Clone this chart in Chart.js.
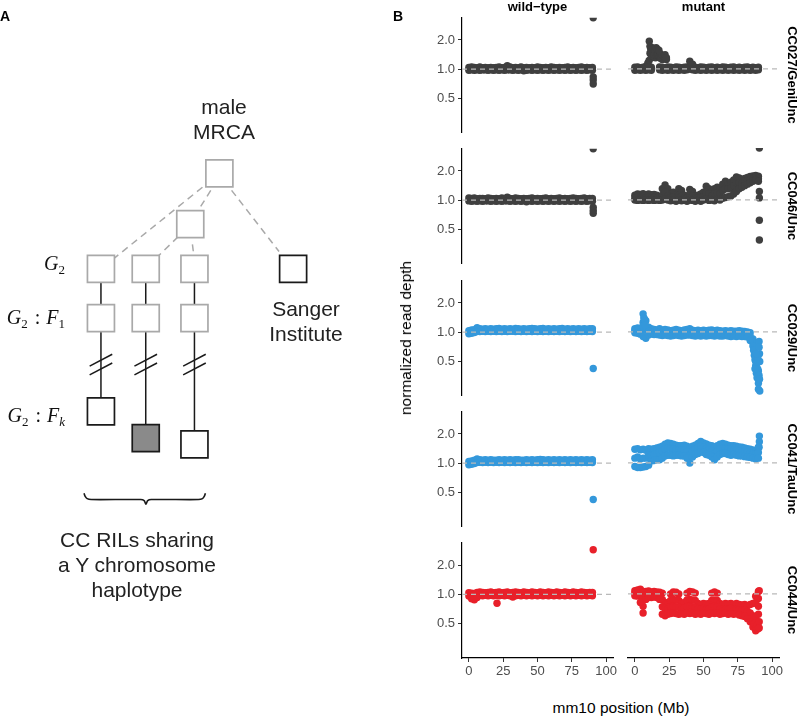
<!DOCTYPE html>
<html>
<head>
<meta charset="utf-8">
<script src="https://cdn.jsdelivr.net/npm/chart.js@4.4.0/dist/chart.umd.min.js"></script>
<style>
  body { margin: 0; background: #fff; }
  #page { position: relative; width: 798px; height: 716px; overflow: hidden; background: #fff;
          font-family: "Liberation Sans", Arial, Helvetica, sans-serif; color: #000; }
  canvas { position: absolute; }
  .txt { position: absolute; white-space: nowrap; }
  .tag { font-weight: bold; font-size: 14px; }
  .dia { font-size: 21px; line-height: 25px; text-align: center; transform: translateX(-50%); color: #222; }
  .math { position: absolute; right: 733px; font-family: "Liberation Serif", "DejaVu Serif", serif;
          font-style: italic; font-size: 20px; line-height: 24px; white-space: nowrap; color: #111; }
  .math sub { font-style: normal; font-size: 13px; vertical-align: -4px; line-height: 0; }
  .math sub.it { font-style: italic; }
  .math .colon { font-style: normal; margin: 0 6px 0 7px; }
  .head { font-weight: bold; font-size: 13px; transform: translate(-50%, -50%); }
  .strip { font-weight: bold; font-size: 13px; transform: translate(-50%, -50%) rotate(90deg); }
  .axt { font-size: 15.5px; color: #000; }
</style>
</head>
<body>
<div id="page">
  <canvas id="pedigree" width="380" height="716" style="left:0;top:0"></canvas>

  <div class="txt tag" style="left:0;top:8px">A</div>
  <div class="txt tag" style="left:393px;top:8px">B</div>

  <div class="txt dia" style="left:224px;top:94px">male<br>MRCA</div>
  <div class="txt dia" style="left:306px;top:296px">Sanger<br>Institute</div>
  <div class="txt dia" style="left:137px;top:527px">CC RILs sharing<br>a Y chromosome<br>haplotype</div>

  <div class="math" style="top:251px">G<sub>2</sub></div>
  <div class="math" style="top:305px">G<sub>2</sub><span class="colon">:</span>F<sub>1</sub></div>
  <div class="math" style="top:403px">G<sub>2</sub><span class="colon">:</span>F<sub class="it">k</sub></div>
</div>

<script>
/* =========================================================
   Y chromosome read depth — pedigree (A) + faceted scatter (B)
   ========================================================= */

// ---------------------- Panel B data ----------------------
const POS = [0, 2, 4, 6, 8, 10, 12, 14, 16, 18,
             20, 22, 24, 26, 28, 30, 32, 34, 36, 38,
             40, 42, 44, 46, 48, 50, 52, 54, 56, 58,
             60, 62, 64, 66, 68, 70, 72, 74, 76, 78,
             80, 82, 84, 86, 88, 90];
const X_TICKS = [0, 25, 50, 75, 100];
const Y_TICKS = [0.5, 1, 2];
const X_MIN = -5, X_MAX = 105;
const Y_MIN = 0.222, Y_MAX = 3.39;
const REF_DEPTH = 1;

const STRAINS = ['CC027/GeniUnc', 'CC046/Unc', 'CC029/Unc', 'CC041/TauUnc', 'CC044/Unc'];
const GENOTYPES = ['wild\u2212type', 'mutant'];

// wild-type
const WT_CC027_HI = [1.04,1.05,1.04,1.03,1.05,1.03,1.04,1.03,1.04,1.03,
                     1.04,1.05,1.03,1.04,1.08,1.05,1.03,1.04,1.03,1.05,
                     1.03,1.04,1.03,1.04,1.03,1.05,1.04,1.03,1.04,1.03,
                     1.05,1.04,1.03,1.04,1.03,1.04,1.05,1.03,1.04,1.03,
                     1.04,1.05,1.03,1.04,1.03,1.04];
const WT_CC027_LO = [0.97,0.98,0.97,0.98,0.97,0.98,0.98,0.97,0.98,0.97,
                     0.98,0.97,0.98,0.97,0.98,0.98,0.97,0.98,0.97,0.98,
                     0.96,0.97,0.98,0.97,0.98,0.97,0.98,0.97,0.98,0.97,
                     0.98,0.97,0.98,0.97,0.98,0.97,0.98,0.97,0.98,0.97,
                     0.98,0.97,0.98,0.97,0.98,0.97];
const WT_CC027_OUT_X = [90.6, 90.6, 90.6, 90.6];
const WT_CC027_OUT_Y = [0.83, 0.77, 0.7, Y_MAX];

const WT_CC046_HI = [1.05,1.04,1.05,1.03,1.04,1.04,1.03,1.05,1.04,1.03,
                     1.04,1.03,1.05,1.04,1.07,1.04,1.03,1.05,1.04,1.03,
                     1.04,1.03,1.04,1.05,1.03,1.04,1.03,1.04,1.05,1.03,
                     1.04,1.03,1.04,1.05,1.03,1.04,1.03,1.04,1.05,1.04,
                     1.03,1.04,1.05,1.03,1.04,1.04];
const WT_CC046_LO = [0.98,0.97,0.98,0.97,0.98,0.97,0.98,0.98,0.97,0.98,
                     0.97,0.98,0.97,0.98,0.98,0.97,0.98,0.97,0.98,0.97,
                     0.98,0.96,0.98,0.97,0.98,0.97,0.98,0.97,0.98,0.97,
                     0.98,0.97,0.98,0.97,0.98,0.97,0.98,0.97,0.98,0.97,
                     0.98,0.97,0.98,0.97,0.98,0.97];
const WT_CC046_OUT_X = [90.6, 90.6, 90.6, 90.6];
const WT_CC046_OUT_Y = [0.84, 0.78, 0.73, Y_MAX];

const WT_CC029_HI = [1.03,1.05,1.06,1.11,1.08,1.07,1.08,1.07,1.08,1.07,
                     1.08,1.09,1.07,1.08,1.07,1.08,1.07,1.09,1.08,1.07,
                     1.08,1.07,1.08,1.09,1.08,1.07,1.08,1.09,1.07,1.08,
                     1.07,1.08,1.07,1.08,1.09,1.07,1.08,1.07,1.08,1.07,
                     1.08,1.07,1.08,1.07,1.08,1.08];
const WT_CC029_LO = [0.96,0.97,0.99,1.01,1.01,1.02,1.01,1.02,1.01,1.02,
                     1.01,1.02,1.01,1.02,1.01,1.02,1.02,1.01,1.02,1.01,
                     1.02,1.01,1.02,1.01,1.02,1.01,1.02,1.01,1.02,1.01,
                     1.02,1.01,1.02,1.01,1.02,1.01,1.02,1.01,1.02,1.01,
                     1.02,1.01,1.02,1.01,1.02,1.01];
const WT_CC029_OUT_X = [90.6];
const WT_CC029_OUT_Y = [0.42];

const WT_CC041_HI = [1.04,1.05,1.07,1.1,1.08,1.07,1.08,1.07,1.08,1.07,
                     1.07,1.08,1.07,1.08,1.07,1.08,1.07,1.08,1.08,1.07,
                     1.07,1.08,1.07,1.08,1.07,1.08,1.09,1.08,1.07,1.08,
                     1.07,1.08,1.07,1.08,1.07,1.08,1.07,1.08,1.07,1.08,
                     1.07,1.08,1.07,1.08,1.07,1.08];
const WT_CC041_LO = [0.96,0.97,0.99,1.01,1.02,1.01,1.02,1.01,1.02,1.01,
                     1.02,1.01,1.02,1.01,1.02,1.01,1.02,1.01,1.02,1.01,
                     1.02,1.01,1.02,1.01,1.02,1.01,1.02,1.01,1.02,1.01,
                     1.02,1.01,1.02,1.01,1.02,1.01,1.02,1.01,1.02,1.01,
                     1.02,1.01,1.02,1.01,1.02,1.01];
const WT_CC041_OUT_X = [90.6];
const WT_CC041_OUT_Y = [0.42];

const WT_CC044_HI = [1.04,1.03,1.02,1.05,1.06,1.05,1.04,1.05,1.06,1.04,
                     1.05,1.06,1.04,1.05,1.06,1.04,1.05,1.06,1.05,1.04,
                     1.06,1.05,1.04,1.06,1.05,1.04,1.06,1.05,1.04,1.06,
                     1.05,1.04,1.06,1.05,1.04,1.06,1.05,1.04,1.06,1.05,
                     1.04,1.06,1.05,1.04,1.05,1.05];
const WT_CC044_LO = [0.96,0.9,0.88,0.93,0.98,0.97,0.98,0.97,0.98,0.97,
                     0.98,0.97,0.98,0.97,0.98,0.97,0.94,0.97,0.98,0.97,
                     0.98,0.97,0.98,0.97,0.98,0.97,0.98,0.97,0.98,0.97,
                     0.98,0.97,0.98,0.97,0.98,0.97,0.98,0.97,0.98,0.97,
                     0.98,0.97,0.98,0.97,0.98,0.97];
const WT_CC044_OUT_X = [20.5, 90.6];
const WT_CC044_OUT_Y = [0.81, 2.88];

// mutant
const MUT_CC027_HI = [1.04,1.05,1.03,1.04,1.05,1.06,1.04,null,null,1.05,
                      1.04,1.03,1.05,1.04,1.03,1.05,1.04,1.03,1.04,1.05,
                      1.2,1.12,1.04,1.03,1.05,1.04,1.03,1.04,1.05,1.03,
                      1.04,1.03,1.05,1.04,1.03,1.04,1.05,1.03,1.04,1.03,
                      1.04,1.05,1.03,1.04,1.03,1.04];
const MUT_CC027_LO = [0.97,0.98,0.97,0.98,0.97,0.98,0.97,null,null,0.98,
                      0.97,0.98,0.97,0.98,0.97,0.98,0.97,0.98,0.97,0.98,
                      1.0,0.98,0.97,0.98,0.97,0.98,0.97,0.98,0.97,0.98,
                      0.97,0.98,0.97,0.98,0.97,0.98,0.97,0.98,0.97,0.98,
                      0.97,0.98,0.97,0.98,0.97,0.98];
const MUT_CC027_OUT_X = [8.5,9.5,10.4,10.5,11,11.5,12,12.5,13,13.5,
                         14,14.5,15,15.5,16,16.5,17,17.5,18,18.5,
                         19,20,21,12,13,14,15,16,17,18,
                         19,20,11,12,13,14,15,16,17,18,
                         19,20,21,22,23,22,23,12.5,13.5,14.5,
                         15.5,16.5,17.5];
const MUT_CC027_OUT_Y = [1.08,1.15,1.22,1.92,1.7,1.62,1.55,1.6,1.58,1.5,
                         1.55,1.52,1.48,1.55,1.5,1.45,1.48,1.42,1.45,1.4,
                         1.38,1.35,1.3,1.3,1.35,1.32,1.3,1.35,1.38,1.3,
                         1.28,1.25,1.45,1.42,1.45,1.4,1.42,1.45,1.4,1.35,
                         1.32,1.38,1.35,1.3,1.25,1.4,1.3,1.65,1.62,1.6,
                         1.65,1.58,1.55];

const MUT_CC046_HI = [1.12,1.15,1.14,1.16,1.12,1.15,1.13,1.14,1.12,1.08,
                      1.3,1.42,1.3,1.15,1.2,1.12,1.3,1.25,1.12,1.1,
                      1.28,1.22,1.1,1.12,1.15,1.2,1.38,1.3,1.22,1.3,
                      1.35,1.3,1.45,1.55,1.45,1.52,1.6,1.72,1.68,1.62,
                      1.66,1.7,1.74,1.76,1.78,1.75];
const MUT_CC046_MID = [1.05,1.07,1.05,1.08,1.05,1.06,1.05,1.06,1.04,1.03,
                       1.12,1.2,1.1,1.06,1.08,1.04,1.12,1.1,1.04,1.04,
                       1.12,1.1,1.04,1.05,1.06,1.08,1.18,1.15,1.1,1.15,
                       1.18,1.15,1.25,1.3,1.3,1.32,1.4,1.5,1.5,1.5,
                       1.55,1.58,1.62,1.65,1.7,1.65];
const MUT_CC046_LO = [1.0,0.99,1.0,0.99,1.0,0.99,1.0,0.99,1.0,0.99,
                      1.0,1.02,1.0,0.98,0.99,0.97,1.0,0.98,0.99,0.97,
                      1.0,0.99,0.97,0.99,0.97,1.0,1.02,0.99,1.0,0.98,
                      1.02,1.0,1.04,1.06,1.08,1.1,1.15,1.22,1.3,1.35,
                      1.4,1.45,1.5,1.55,1.6,1.55];
const MUT_CC046_OUT_X = [90.7, 90.7, 90.7, 90.7, 90.7];
const MUT_CC046_OUT_Y = [1.22, 1.05, 0.62, 0.39, Y_MAX];

const MUT_CC029_HI = [1.08,1.1,1.08,1.53,1.3,1.12,1.08,1.06,1.05,1.08,
                      1.04,1.06,1.05,1.03,1.04,1.06,1.04,1.03,1.05,1.06,
                      1.08,1.04,1.03,1.04,1.03,1.04,1.03,1.04,1.05,1.03,
                      1.04,1.03,1.02,1.03,1.02,1.03,1.02,1.02,1.03,1.02,
                      1.01,1.0,0.98,0.85,0.7,0.5];
const MUT_CC029_MID = [1.03,1.04,1.0,1.25,1.05,1.02,1.0,1.0,0.99,1.0,
                       0.98,0.99,0.98,0.97,0.98,0.99,0.97,0.97,0.98,0.99,
                       1.0,0.98,0.97,0.97,0.97,0.98,0.97,0.97,0.98,0.97,
                       0.97,0.96,0.96,0.97,0.96,0.96,0.96,0.95,0.96,0.95,
                       0.95,0.95,0.9,0.78,0.55,0.4];
const MUT_CC029_LO = [0.98,0.97,0.95,0.9,0.86,0.93,0.95,0.94,0.94,0.93,
                      0.92,0.93,0.92,0.91,0.92,0.93,0.92,0.91,0.92,0.93,
                      0.93,0.92,0.91,0.92,0.91,0.92,0.91,0.92,0.92,0.91,
                      0.92,0.91,0.91,0.92,0.91,0.9,0.91,0.9,0.91,0.9,
                      0.9,0.89,0.82,0.72,0.45,0.3];
const MUT_CC029_OUT_X = [6.5,7,6,7.5,86.5,87,87.5,88,88.5,89,
                         89,89.5,90,90.5,90.5,90.5,90.8,90.8,91,91,
                         89.5,88.5,87.5];
const MUT_CC029_OUT_Y = [1.4,1.35,1.15,1.18,0.65,0.58,0.52,0.5,0.38,0.48,
                         0.34,0.42,0.26,0.8,0.7,0.36,0.6,0.33,0.5,0.25,
                         0.55,0.6,0.42];

const MUT_CC041_HI = [1.38,1.4,1.36,1.38,1.35,1.4,1.38,1.4,1.42,1.45,
                      1.48,1.55,1.6,1.58,1.55,1.52,1.5,1.5,1.52,1.48,
                      1.4,1.48,1.52,1.58,1.66,1.6,1.56,1.52,1.5,1.45,
                      1.5,1.55,1.58,1.55,1.52,1.5,1.5,1.48,1.46,1.45,
                      1.42,1.4,1.38,1.36,1.34,1.45];
const MUT_CC041_MID = [1.12,1.15,1.1,1.12,1.12,1.2,1.2,1.22,1.24,1.28,
                       1.32,1.38,1.42,1.4,1.38,1.36,1.35,1.34,1.35,1.3,
                       1.2,1.32,1.38,1.42,1.48,1.45,1.4,1.36,1.32,1.25,
                       1.32,1.4,1.42,1.4,1.38,1.36,1.36,1.34,1.32,1.3,
                       1.3,1.28,1.26,1.24,1.22,1.28];
const MUT_CC041_LO = [0.92,0.9,0.9,0.91,0.92,0.95,1.05,1.06,1.08,1.08,
                      1.12,1.18,1.2,1.2,1.18,1.2,1.2,1.18,1.18,1.12,
                      1.0,1.15,1.22,1.25,1.3,1.28,1.22,1.2,1.15,1.08,
                      1.15,1.22,1.25,1.25,1.22,1.2,1.22,1.2,1.18,1.18,
                      1.16,1.15,1.14,1.12,1.1,1.12];
const MUT_CC041_OUT_X = [90.7, 90.7, 90.5];
const MUT_CC041_OUT_Y = [1.88, 1.65, 1.45];

const MUT_CC044_TOP = [null,null,null,1.06,null,null,null,null,null,null,
                       1.02,null,null,1.0,1.05,1.04,1.0,null,null,1.02,
                       1.06,1.05,1.02,null,null,null,null,null,1.02,1.05,
                       1.02,null,null,null,null,null,null,null,null,null,
                       null,null,null,null,0.95,1.06];
const MUT_CC044_HI = [1.08,1.1,1.12,0.9,1.06,1.07,1.05,1.06,1.05,1.04,
                      0.88,0.82,0.8,0.86,0.88,0.87,0.86,0.8,0.82,0.87,
                      0.88,0.87,0.86,0.8,0.78,0.8,0.79,0.8,0.86,0.87,
                      0.86,0.8,0.78,0.8,0.79,0.8,0.78,0.8,0.78,0.77,
                      0.78,0.76,0.78,0.8,0.82,0.9];
const MUT_CC044_MID = [1.02,1.02,0.96,0.75,0.97,1.0,0.98,0.99,0.98,0.96,
                       0.74,0.71,0.7,0.74,0.75,0.74,0.73,0.7,0.72,0.74,
                       0.75,0.74,0.73,0.7,0.7,0.71,0.7,0.7,0.74,0.75,
                       0.74,0.7,0.7,0.7,0.7,0.71,0.7,0.7,0.69,0.68,
                       0.68,0.66,0.64,0.6,0.58,0.75];
const MUT_CC044_LO = [0.96,0.95,0.82,0.64,0.88,0.92,0.92,0.93,0.92,0.88,
                      0.62,0.6,0.62,0.63,0.64,0.63,0.62,0.63,0.62,0.64,
                      0.63,0.64,0.62,0.63,0.62,0.64,0.63,0.62,0.64,0.63,
                      0.64,0.62,0.63,0.64,0.62,0.63,0.62,0.63,0.61,0.6,
                      0.59,0.56,0.52,0.46,0.42,0.62];
const MUT_CC044_OUT_X = [87, 88.5, 89, 89.5, 90.6, 90.6, 90.6];
const MUT_CC044_OUT_Y = [0.5, 0.45, 0.48, 0.44, 1.08, 0.52, 0.45];

// ---------------------- Panel A data (diagram units) ----------------------
const NODE_X = [223, 190.3, 90, 140.3, 195, 305.8, 90, 140.3, 195, 90, 140.3, 195];
const NODE_Y = [162, 215.8, 263.3, 263.3, 263.3, 263.3, 315.7, 315.7, 315.7, 414.7, 443, 449.7];
const NODE_KIND = ['ancestor', 'ancestor', 'ancestor', 'ancestor', 'ancestor', 'sequenced',
                   'ancestor', 'ancestor', 'ancestor', 'sequenced', 'carrier', 'sequenced'];
// dashed "descent" edges: [x1, y1, x2, y2]
const DESCENT_EDGES = [
  [204, 176.7, 103.3, 253.3],
  [213.3, 180, 199, 201.7],
  [236.7, 180, 290, 245],
  [176.7, 229.3, 154, 250],
  [192.7, 237.3, 194, 246.7],
];
// solid inbreeding edges
const INBRED_EDGES = [
  [90, 276.7, 90, 302.3], [140.3, 276.7, 140.3, 302.3], [195, 276.7, 195, 302.3],
  [90, 329, 90, 401], [140.3, 329, 140.3, 429.3], [195, 329, 195, 436],
];
// generation-break marks
const BREAK_MARKS = [
  [77.3, 366.7, 102.7, 354], [77.3, 376, 102.7, 363.3],
  [127.6, 366.7, 153, 354], [127.6, 376, 153, 363.3],
  [182.3, 366.7, 207.7, 354], [182.3, 376, 207.7, 363.3],
];
const BRACE_X = [71, 72.3, 74.5, 79, 134.5, 138.5, 140.5, 142.5, 146.5, 199.5, 204, 206, 207.3];
const BRACE_Y = [501.5, 505, 507.3, 508.3, 508.3, 509.5, 513.3, 509.5, 508.3, 508.3, 507.3, 505, 501.5];

// ---------------------- Styling ----------------------
const FONT = '"Liberation Sans", Arial, Helvetica, sans-serif';
const ROW_COLORS = ['#3f3f3f', '#3f3f3f', '#3498db', '#3498db', '#e8202a'];
const NODE_STYLE = {
  ancestor:  { edge: '#a9a9a9', fill: '#ffffff' },
  sequenced: { edge: '#1a1a1a', fill: '#ffffff' },
  carrier:   { edge: '#1a1a1a', fill: '#8a8a8a' },
};

// ---------------------- Layout (px) ----------------------
const PLOT_LEFT = [462, 628];
const PLOT_W = 151;
const ROW_TOP = [17, 148, 280, 411, 542];
const PLOT_H = 116;
const Y_AXIS_W = 50, X_AXIS_H = 30;
const PAD_T = 10, PAD_B = 10, PAD_L = 10, PAD_R = 12;

const page = document.getElementById('page');

// ---------------------- Panel A: pedigree ----------------------
function segmentDataset(seg, color, width, dash) {
  return {
    data: [{ x: seg[0], y: seg[1] }, { x: seg[2], y: seg[3] }],
    showLine: true, pointRadius: 0, borderColor: color, borderWidth: width,
    borderDash: dash || [], order: 2, clip: false,
  };
}

function buildPedigree() {
  const datasets = [];
  DESCENT_EDGES.forEach(s => datasets.push(segmentDataset(s, '#a9a9a9', 1.5, [7, 5])));
  INBRED_EDGES.forEach(s => datasets.push(segmentDataset(s, '#1a1a1a', 1.5)));
  BREAK_MARKS.forEach(s => datasets.push(segmentDataset(s, '#1a1a1a', 1.5)));
  datasets.push({
    data: BRACE_X.map((x, i) => ({ x, y: BRACE_Y[i] })),
    showLine: true, pointRadius: 0, borderColor: '#1a1a1a', borderWidth: 1.6,
    tension: 0.3, order: 2, clip: false,
  });
  datasets.push({
    data: NODE_X.map((x, i) => ({ x, y: NODE_Y[i] })),
    pointStyle: 'rect',
    pointRadius: 19.1,
    pointBorderWidth: 1.7,
    pointBorderColor: NODE_KIND.map(k => NODE_STYLE[k].edge),
    pointBackgroundColor: NODE_KIND.map(k => NODE_STYLE[k].fill),
    order: 0, clip: false,
  });

  new Chart(document.getElementById('pedigree'), {
    type: 'scatter',
    data: { datasets },
    options: {
      responsive: false, animation: false, events: [], devicePixelRatio: 1,
      layout: { padding: 0 },
      plugins: { legend: { display: false }, tooltip: { enabled: false } },
      scales: {
        x: { type: 'linear', min: 0, max: 380, display: false },
        y: { type: 'linear', min: 0, max: 716, reverse: true, display: false },
      },
    },
  });
}

// ---------------------- Panel B: faceted scatter ----------------------
const PANELS = [
  { row: 0, col: 0, grid: [WT_CC027_HI, WT_CC027_LO], ox: WT_CC027_OUT_X, oy: WT_CC027_OUT_Y },
  { row: 0, col: 1, grid: [MUT_CC027_HI, MUT_CC027_LO], ox: MUT_CC027_OUT_X, oy: MUT_CC027_OUT_Y },
  { row: 1, col: 0, grid: [WT_CC046_HI, WT_CC046_LO], ox: WT_CC046_OUT_X, oy: WT_CC046_OUT_Y },
  { row: 1, col: 1, grid: [MUT_CC046_HI, MUT_CC046_MID, MUT_CC046_LO], ox: MUT_CC046_OUT_X, oy: MUT_CC046_OUT_Y },
  { row: 2, col: 0, grid: [WT_CC029_HI, WT_CC029_LO], ox: WT_CC029_OUT_X, oy: WT_CC029_OUT_Y },
  { row: 2, col: 1, grid: [MUT_CC029_HI, MUT_CC029_MID, MUT_CC029_LO], ox: MUT_CC029_OUT_X, oy: MUT_CC029_OUT_Y },
  { row: 3, col: 0, grid: [WT_CC041_HI, WT_CC041_LO], ox: WT_CC041_OUT_X, oy: WT_CC041_OUT_Y },
  { row: 3, col: 1, grid: [MUT_CC041_HI, MUT_CC041_MID, MUT_CC041_LO], ox: MUT_CC041_OUT_X, oy: MUT_CC041_OUT_Y },
  { row: 4, col: 0, grid: [WT_CC044_HI, WT_CC044_LO], ox: WT_CC044_OUT_X, oy: WT_CC044_OUT_Y },
  { row: 4, col: 1, grid: [MUT_CC044_TOP, MUT_CC044_HI, MUT_CC044_MID, MUT_CC044_LO], ox: MUT_CC044_OUT_X, oy: MUT_CC044_OUT_Y },
];

function panelPoints(p) {
  const pts = [];
  p.grid.forEach(vals => vals.forEach((v, i) => {
    if (v !== null && POS[i] !== undefined) pts.push({ x: POS[i], y: v });
  }));
  p.ox.forEach((x, i) => pts.push({ x, y: p.oy[i] }));
  return pts;
}

const axisBorder = { display: true, color: '#000', width: 1.2 };
const axisGrid = { drawOnChartArea: false, drawTicks: true, tickLength: 4, tickColor: '#333', tickWidth: 1 };
const tickFont = { family: FONT, size: 13 };

function buildPanel(p) {
  const isWT = p.col === 0;
  const isBottom = p.row === STRAINS.length - 1;
  const leftSpace = isWT ? Y_AXIS_W : PAD_L;
  const w = leftSpace + PLOT_W + PAD_R;
  const h = PAD_T + PLOT_H + (isBottom ? X_AXIS_H : 0) + PAD_B;

  const canvas = document.createElement('canvas');
  canvas.width = w;
  canvas.height = h;
  canvas.style.left = (PLOT_LEFT[p.col] - leftSpace) + 'px';
  canvas.style.top = (ROW_TOP[p.row] - PAD_T) + 'px';
  page.appendChild(canvas);

  new Chart(canvas, {
    type: 'scatter',
    data: {
      datasets: [
        {
          data: [{ x: X_MIN, y: REF_DEPTH }, { x: X_MAX, y: REF_DEPTH }],
          showLine: true, pointRadius: 0, borderColor: '#b9b9b9', borderWidth: 1.3,
          borderDash: [5, 4], order: 0, clip: 0,
        },
        {
          data: panelPoints(p),
          backgroundColor: ROW_COLORS[p.row], borderWidth: 0,
          pointRadius: 3.7, order: 1, clip: 0,
        },
      ],
    },
    options: {
      responsive: false, animation: false, events: [], devicePixelRatio: 1,
      layout: { padding: { left: isWT ? 0 : PAD_L, right: PAD_R, top: PAD_T, bottom: PAD_B } },
      plugins: { legend: { display: false }, tooltip: { enabled: false } },
      scales: {
        x: {
          type: 'linear', min: X_MIN, max: X_MAX, display: isBottom,
          afterBuildTicks: (s) => { s.ticks = X_TICKS.map(v => ({ value: v })); },
          afterFit: (s) => { s.height = isBottom ? X_AXIS_H : 0; },
          border: axisBorder, grid: axisGrid,
          ticks: { color: '#4d4d4d', font: tickFont, padding: 2, maxRotation: 0, autoSkip: false },
        },
        y: {
          type: 'logarithmic', min: Y_MIN, max: Y_MAX, display: isWT,
          afterBuildTicks: (s) => { s.ticks = Y_TICKS.map(v => ({ value: v })); },
          afterFit: (s) => { s.width = isWT ? Y_AXIS_W : 0; },
          border: axisBorder, grid: axisGrid,
          ticks: { color: '#4d4d4d', font: tickFont, padding: 3, autoSkip: false,
                   callback: (v) => Number(v).toFixed(1) },
        },
      },
    },
  });
}

// ---------------------- Panel B text ----------------------
function addText(cls, text, left, top) {
  const d = document.createElement('div');
  d.className = 'txt ' + cls;
  d.textContent = text;
  d.style.left = left + 'px';
  d.style.top = top + 'px';
  page.appendChild(d);
  return d;
}

function buildPanelBText() {
  GENOTYPES.forEach((g, c) => addText('head', g, PLOT_LEFT[c] + PLOT_W / 2, 6));
  STRAINS.forEach((s, r) => addText('strip', s, 792, ROW_TOP[r] + PLOT_H / 2));
  const yt = addText('axt', 'normalized read depth', 406, 338);
  yt.style.transform = 'translate(-50%, -50%) rotate(-90deg)';
  const xt = addText('axt', 'mm10 position (Mb)', 621, 708);
  xt.style.transform = 'translate(-50%, -50%)';
}

buildPedigree();
PANELS.forEach(buildPanel);
buildPanelBText();
</script>
</body>
</html>
